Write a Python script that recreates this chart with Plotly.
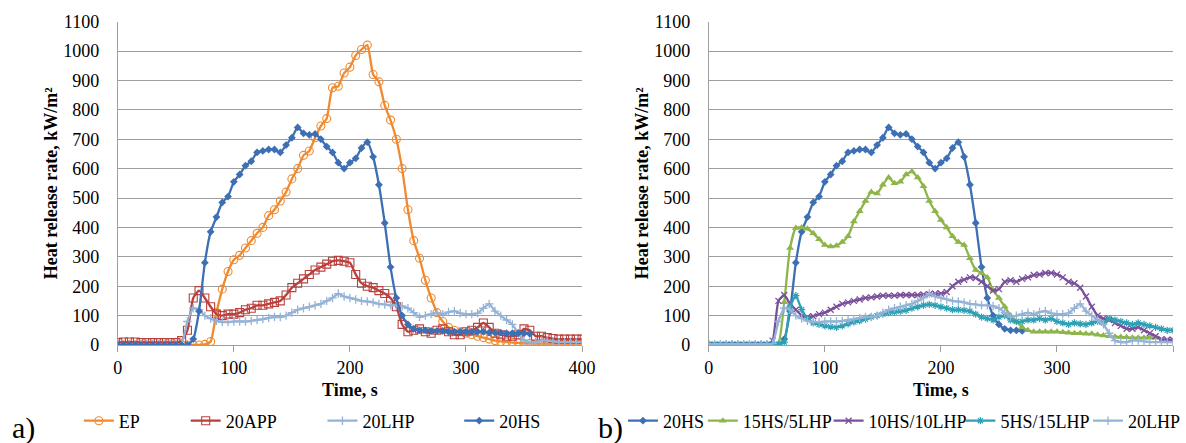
import plotly.graph_objects as go

W, H = 1186, 443

# ---------------- data (time step 5 s) ----------------
time = list(range(0, 405, 5))

ep = [0]*14 + [0, 2, 12, 110, 190, 250,
      290, 305, 330, 355, 380, 400, 440, 460, 490, 520, 565, 600, 645, 660, 705, 745, 770, 875, 880, 925,
      945, 985, 1005, 1020, 920, 895, 815, 765, 700, 600, 460, 355, 295, 220, 160, 110, 80, 60, 50, 45,
      40, 35, 30, 25, 20, 15, 12, 10, 8, 7, 6, 6, 5, 5, 5, 5, 5, 5, 5, 5, 5]

app20 = [8, 10, 10, 10, 8, 8, 8, 8, 8, 8, 8,
         15, 50, 160, 185, 160, 130, 105, 100, 105,
         105, 110, 120, 125, 135, 135, 140, 145, 150, 170, 195, 210, 225, 240, 255, 265, 275, 285, 288, 285,
         280, 240, 210, 200, 195, 185, 175, 160, 130, 70, 45, 50, 55, 45, 40, 50, 55, 45, 35, 35,
         45, 50, 60, 75, 60, 40, 35, 30, 30, 35, 55, 50, 30, 30, 25, 22, 20, 20, 20, 20, 20]

lhp20 = [3, 3, 3, 3, 3, 3, 3, 3, 3, 3, 3, 5,
         80, 125, 120, 100, 90, 82, 78, 78,
         80, 80, 80, 82, 85, 88, 92, 95, 95, 100, 110, 120, 125, 130, 135, 140, 150, 160, 175, 165,
         160, 155, 150, 148, 145, 140, 138, 135, 135, 132, 125, 110, 95, 100, 105, 110, 105, 112, 115, 108,
         105, 105, 108, 125, 140, 115, 100, 85, 70, 40, 15, 10, 10, 15, 15, 12, 10, 10, 10, 10, 10]

hs20 = [0]*13 + [20, 115, 280, 385, 435, 485, 505,
        555, 580, 610, 625, 655, 660, 665, 665, 655, 680, 705, 740, 720, 715, 718, 700, 675, 655, 620, 600,
        620, 635, 670, 690, 640, 545, 415, 265, 160, 100, 70, 55, 50, 50, 48, 48, 48, 45, 45, 45,
        45, 45, 45, 45, 42, 42, 42, 40, 40, 40, 40, 38]

hs20_b = hs20[:55]   # panel b series stops at 270 s

hs15_lhp5 = [0]*12 + [5, 145, 330, 398, 400, 395, 380, 360,
             340, 335, 338, 350, 370, 420, 455, 490, 520, 515, 545, 570, 550, 555, 580, 590, 570, 540, 490, 455,
             425, 400, 370, 350, 340, 295, 255, 245, 230, 185, 160, 130, 100, 80, 60, 50, 45, 45, 45, 45,
             45, 43, 42, 40, 40, 38, 38, 35, 32, 30, 28, 27, 26, 25, 25, 25, 25, 25]

hs10_lhp10 = [0]*11 + [15, 150, 170, 140, 120, 100, 95, 98, 105,
              110, 120, 130, 140, 145, 150, 155, 160, 162, 165, 168, 168, 168, 170, 170, 170, 170, 172, 173, 175,
              175, 180, 200, 215, 222, 230, 228, 215, 200, 185, 190, 215, 220, 215, 225, 230, 238, 240, 245, 245,
              240, 230, 215, 210, 195, 165, 130, 100, 90, 85, 75, 65, 55, 55, 60, 50, 40, 30, 20, 18, 18]

hs5_lhp15 = [3]*13 + [10, 130, 168, 120, 90, 75, 70,
             65, 62, 60, 65, 72, 78, 82, 88, 95, 100, 105, 110, 112, 115, 118, 125, 130, 135, 138, 135,
             130, 125, 120, 120, 118, 115, 105, 95, 90, 85, 95, 100, 85, 80, 80, 85, 85, 90, 85, 90,
             80, 75, 70, 75, 72, 70, 75, 80, 75, 90, 85, 80, 75, 70, 75, 70, 65, 60, 55, 50, 50]

# ---------------- styles ----------------
C_EP = "#F0892F"
C_APP = "#B9403D"
C_LHP = "#95B3D7"
C_HS = "#3C6FB4"
C_G = "#8DB548"
C_P = "#7A509B"
C_T = "#2DA0B5"

SERIF = "Liberation Serif, Times New Roman, serif"

fig = go.Figure()

def add(x, y, name, color, symbol, size, axis, legend, open_line=None):
    mk = dict(symbol=symbol, size=size, color=color)
    if open_line is not None:
        mk["line"] = dict(width=open_line, color=color)
    fig.add_trace(go.Scatter(
        x=x, y=y, name=name, mode="lines+markers",
        line=dict(color=color, width=2.3, shape="spline", smoothing=0.5),
        marker=mk, xaxis="x" if axis == 1 else "x2", yaxis="y" if axis == 1 else "y2",
        legend=legend, showlegend=True))

add(time[:len(ep)], ep, "EP", C_EP, "circle-open", 8, 1, "legend", 1.1)
add(time[:len(app20)], app20, "20APP", C_APP, "square-open", 8, 1, "legend2", 1.1)
add(time[:len(lhp20)], lhp20, "20LHP", C_LHP, "cross-thin", 6, 1, "legend3", 1.3)
add(time[:len(hs20)], hs20, "20HS", C_HS, "diamond", 6, 1, "legend4")

add(time[:len(hs20_b)], hs20_b, "20HS", C_HS, "diamond", 6, 2, "legend5")
add(time[:len(hs15_lhp5)], hs15_lhp5, "15HS/5LHP", C_G, "triangle-up", 7, 2, "legend6")
add(time[:len(hs10_lhp10)], hs10_lhp10, "10HS/10LHP", C_P, "x-thin", 6, 2, "legend7", 1.3)
add(time[:len(hs5_lhp15)], hs5_lhp15, "5HS/15LHP", C_T, "asterisk", 6, 2, "legend8", 1.2)
add(time[:len(lhp20)], lhp20, "20LHP", C_LHP, "cross-thin", 6, 2, "legend9", 1.3)

GRID = "#9E9E9E"
tickfont = dict(family=SERIF, size=18, color="#000")
titlefont = dict(family=SERIF, size=18, color="#000", weight="bold")

def xax(domain, anchor):
    return dict(domain=domain, anchor=anchor, range=[0, 400], dtick=100, showgrid=False,
                zeroline=False, showline=True, linecolor=GRID, linewidth=1,
                ticks="outside", ticklen=6, tickcolor=GRID, tickfont=tickfont,
                title=dict(text="Time, s", font=titlefont, standoff=6), automargin=False)

def yax(domain, anchor):
    return dict(domain=domain, anchor=anchor, range=[0, 1100], dtick=100, showgrid=True,
                gridcolor=GRID, gridwidth=1, zeroline=False, showline=True, linecolor=GRID,
                linewidth=1, ticks="", tickfont=tickfont, ticklabelstandoff=14,
                title=dict(text="Heat release rate, kW/m²", font=titlefont, standoff=0),
                automargin=False)

ydom = [(H - 345) / H, (H - 21.6) / H]
layout = dict(
    width=W, height=H, margin=dict(l=0, r=0, t=0, b=0),
    paper_bgcolor="white", plot_bgcolor="white",
    xaxis=xax([118 / W, 583 / W], "y"),
    yaxis=yax(ydom, "x"),
    xaxis2=xax([710 / W, 1175 / W], "y2"),
    yaxis2=yax(ydom, "x2"),
)

text_starts = [123, 230, 367, 504, 668, 748, 874, 1006, 1134]
legend_y = (H - 421) / H
for i, xs in enumerate(text_starts):
    key = "legend" if i == 0 else f"legend{i + 1}"
    layout[key] = dict(orientation="h", x=(xs - 44) / W, xanchor="left", y=legend_y,
                       yanchor="middle", bgcolor="rgba(0,0,0,0)", itemwidth=30,
                       font=dict(family=SERIF, size=18, color="#000"))

fig.update_layout(**layout)

fig.add_annotation(text="a)", x=10 / W, y=(H - 428) / H, xref="paper", yref="paper",
                   xanchor="left", yanchor="middle", showarrow=False,
                   font=dict(family=SERIF, size=30, color="#000"))
fig.add_annotation(text="b)", x=597 / W, y=(H - 428) / H, xref="paper", yref="paper",
                   xanchor="left", yanchor="middle", showarrow=False,
                   font=dict(family=SERIF, size=30, color="#000"))

fig.write_html("out.html")
